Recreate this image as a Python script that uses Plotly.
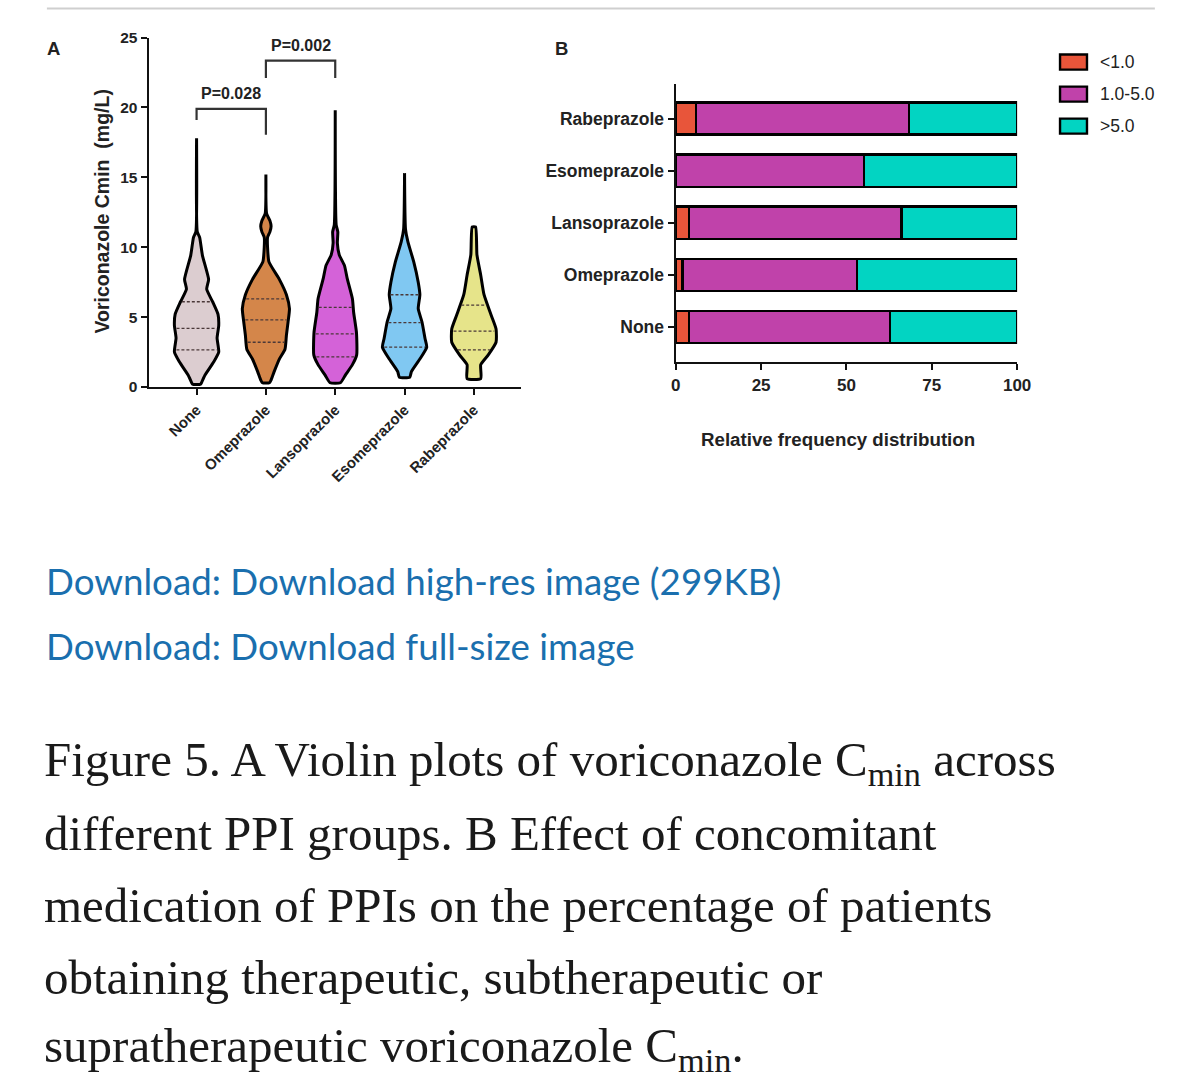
import numpy as np
import plotly.graph_objects as go

W, H = 1200, 1081
# measured mapping from figure pixels to photographed page pixels
SX, OX, SY, OY = 0.986, 3.0, 0.983, 7.5
def px(x): return ((x - OX) / SX) / W
def py(y): return 1 - ((y - OY) / SY) / H

# ---------------- Panel A data ----------------
GROUPS = ["None", "Omeprazole", "Lansoprazole", "Esomeprazole", "Rabeprazole"]
VIOLIN_COLORS = ["#dccdd0", "#d4864a", "#d462d8", "#80c8f2", "#e6e48a"]

# density profiles: concentration levels (mg/L) and relative half-width (0-1)
none_levels = [0.2, 0.35, 0.85, 1.8, 2.5, 3.5, 4.4, 5.2, 6.1, 7.0, 7.7, 9.4, 10.7, 11.1, 17.8]
none_dens = [0.17, 0.22, 0.36, 0.73, 0.94, 0.87, 0.94, 0.91, 0.68, 0.43, 0.51, 0.25, 0.13, 0.03, 0.0]
ome_levels = [0.3, 0.5, 1.1, 2.0, 2.7, 3.7, 4.65, 5.6, 6.6, 7.7, 8.95, 10.0, 10.7, 11.1, 11.5, 11.9, 12.4, 15.2]
ome_dens = [0.15, 0.22, 0.35, 0.57, 0.81, 0.87, 0.94, 1.0, 0.87, 0.57, 0.13, 0.07, 0.07, 0.17, 0.22, 0.17, 0.03, 0.0]
lan_levels = [0.3, 0.85, 1.6, 2.3, 3.9, 5.35, 6.3, 7.75, 8.7, 9.45, 10.3, 11.1, 11.6, 19.8]
lan_dens = [0.22, 0.43, 0.73, 0.91, 0.90, 0.78, 0.73, 0.51, 0.39, 0.17, 0.09, 0.11, 0.04, 0.0]
eso_levels = [0.7, 1.1, 2.0, 2.85, 3.45, 4.65, 5.6, 6.6, 7.5, 8.95, 10.4, 11.3, 15.3]
eso_dens = [0.22, 0.29, 0.65, 0.94, 0.87, 0.74, 0.58, 0.65, 0.58, 0.39, 0.14, 0.04, 0.0]
rab_levels = [0.6, 1.6, 2.3, 3.2, 4.15, 5.15, 6.6, 8.0, 9.45, 11.45]
rab_dens = [0.29, 0.29, 0.61, 0.94, 0.94, 0.73, 0.43, 0.29, 0.13, 0.07]

LEVELS = [none_levels, ome_levels, lan_levels, eso_levels, rab_levels]
DENS = [none_dens, ome_dens, lan_dens, eso_dens, rab_dens]

# quartiles (Q1, median, Q3) in mg/L
QUARTILES = [[2.65, 4.2, 6.1], [3.2, 4.8, 6.3], [2.15, 3.8, 5.7], [2.85, 4.6, 6.6], [2.65, 4.0, 5.85]]

# significance comparisons: (group a, group b, bracket top, left leg end, right leg end, label)
COMPARISONS = [
    ("None", "Omeprazole", 19.9, 19.1, 18.05, "P=0.028"),
    ("Omeprazole", "Lansoprazole", 23.35, 22.1, 22.1, "P=0.002"),
]
Y_TICKS_A = [0, 5, 10, 15, 20, 25]

# ---------------- Panel B data ----------------
B_GROUPS = ["None", "Omeprazole", "Lansoprazole", "Esomeprazole", "Rabeprazole"]
LOW = [3.9, 2.0, 3.9, 0.0, 6.0]          # <1.0
MID = [58.8, 51.1, 62.2, 55.1, 62.3]     # 1.0-5.0
HIGH = [37.3, 46.9, 33.9, 44.9, 31.7]    # >5.0
B_SERIES = ["<1.0", "1.0-5.0", ">5.0"]
B_COLORS = ["#e8553a", "#c042aa", "#02d4c2"]
X_TICKS_B = [0, 25, 50, 75, 100]

FONT = "Arial, Liberation Sans, sans-serif"
INK = "#222222"
MAXHW = 0.34   # max half width of a violin, in category units

fig = go.Figure()

# ---- violins
for i, g in enumerate(GROUPS):
    lv = np.array(LEVELS[i]); d = np.array(DENS[i]) * MAXHW
    xs = np.concatenate([i + d, (i - d)[::-1], [i + d[0]]])
    ys = np.concatenate([lv, lv[::-1], [lv[0]]])
    fig.add_trace(go.Scatter(x=xs, y=ys, mode="lines", fill="toself",
                             fillcolor=VIOLIN_COLORS[i],
                             line=dict(color="black", width=3, shape="spline", smoothing=0.5),
                             showlegend=False, hoverinfo="skip", xaxis="x", yaxis="y"))
    for q in QUARTILES[i]:
        hw = np.interp(q, lv, d) * 0.92
        fig.add_trace(go.Scatter(x=[i - hw, i + hw], y=[q, q], mode="lines",
                                 line=dict(color="#4a3838", width=1.3, dash="3px,2px"),
                                 showlegend=False, hoverinfo="skip", xaxis="x", yaxis="y"))

# ---- significance brackets
for a, b, top, la, lb, lab in COMPARISONS:
    xa, xb = GROUPS.index(a), GROUPS.index(b)
    fig.add_trace(go.Scatter(x=[xa, xa, xb, xb], y=[la, top, top, lb], mode="lines",
                             line=dict(color="#333", width=2.2), showlegend=False,
                             hoverinfo="skip", xaxis="x", yaxis="y"))
    fig.add_annotation(x=(xa + xb) / 2, y=top, xref="x", yref="y", text=lab,
                       showarrow=False, xanchor="center", yanchor="bottom", yshift=5,
                       font=dict(family=FONT, size=16, color=INK, weight="bold"))

# ---- panel B stacked bars
for name, vals, col in zip(B_SERIES, [LOW, MID, HIGH], B_COLORS):
    fig.add_trace(go.Bar(y=B_GROUPS, x=vals, orientation="h", name=name,
                         marker=dict(color=col, line=dict(color="black", width=2.4)),
                         width=0.62, xaxis="x2", yaxis="y2", showlegend=False))

axis_common = dict(showgrid=False, zeroline=False, showline=True, linecolor="#111",
                   linewidth=2.4, ticks="outside", ticklen=6, tickwidth=2.2, tickcolor="#111")

fig.update_layout(
    width=W, height=H, margin=dict(l=0, r=0, t=0, b=0),
    paper_bgcolor="white", plot_bgcolor="white",
    barmode="stack",
    xaxis=dict(domain=[px(147), px(520)], range=[-0.69, 4.68],
               tickvals=list(range(len(GROUPS))), ticktext=GROUPS, tickangle=-45,
               tickfont=dict(family=FONT, size=15, color=INK, weight="bold"),
               anchor="y", **axis_common),
    yaxis=dict(domain=[py(385), py(36)], range=[0, 25], tickvals=Y_TICKS_A,
               tickfont=dict(family=FONT, size=15.5, color=INK, weight="bold"),
               anchor="x", **axis_common),
    xaxis2=dict(domain=[px(675), px(1017)], range=[0, 100], tickvals=X_TICKS_B,
                tickfont=dict(family=FONT, size=17, color=INK, weight="bold"),
                anchor="y2", **axis_common),
    yaxis2=dict(domain=[py(360), py(82)], range=[-0.67, 4.67],
                categoryorder="array", categoryarray=B_GROUPS,
                tickfont=dict(family=FONT, size=17.5, color=INK, weight="bold"),
                anchor="x2", **axis_common),
    showlegend=False,
    shapes=[dict(type="line", xref="paper", yref="paper", x0=px(45), x1=px(1155),
                 y0=py(7), y1=py(7), line=dict(color="#cfcfcf", width=2))],
)

# ---- custom legend for panel B (boxes + labels)
for k, (name, col) in enumerate(zip(B_SERIES, B_COLORS)):
    yc = 60.5 + 32 * k
    fig.add_shape(type="rect", xref="paper", yref="paper",
                  x0=px(1060), x1=px(1087), y0=py(yc + 7.5), y1=py(yc - 7.5),
                  fillcolor=col, line=dict(color="black", width=2.4))
    fig.add_annotation(x=px(1098), y=py(yc), xref="paper", yref="paper", text=name,
                       showarrow=False, xanchor="left", yanchor="middle",
                       font=dict(family=FONT, size=17.5, color=INK))

# ---- text elements
for x, y, t in [(52, 47, "A"), (561, 47, "B")]:
    fig.add_annotation(x=px(x), y=py(y), xref="paper", yref="paper", text=t,
                       showarrow=False, xanchor="center", yanchor="middle",
                       font=dict(family=FONT, size=18.5, color=INK, weight="bold"))

fig.add_annotation(x=px(100), y=py(210), xref="paper", yref="paper",
                   text="Voriconazole Cmin  (mg/L)", textangle=-90, showarrow=False,
                   xanchor="center", yanchor="middle",
                   font=dict(family=FONT, size=19.5, color=INK, weight="bold"))
fig.add_annotation(x=px(838), y=py(437), xref="paper", yref="paper",
                   text="Relative frequency distribution", showarrow=False,
                   xanchor="center", yanchor="middle",
                   font=dict(family=FONT, size=18.7, color=INK, weight="bold"))

LINK_COLOR = "#1a6fae"
for yy, t in [(578.5, "Download: Download high-res image (299KB)"),
              (643.5, "Download: Download full-size image")]:
    fig.add_annotation(x=px(42), y=py(yy), xref="paper", yref="paper", text=t,
                       showarrow=False, xanchor="left", yanchor="middle",
                       font=dict(family="Lato, Noto Sans, sans-serif", size=36.7, color=LINK_COLOR))

CAPTION = [
    "Figure 5. A Violin plots of voriconazole C<sub>min</sub> across",
    "different PPI groups. B Effect of concomitant",
    "medication of PPIs on the percentage of patients",
    "obtaining therapeutic, subtherapeutic or",
    "supratherapeutic voriconazole C<sub>min</sub>.",
]
CAPTION_Y = [760, 831, 903, 975, 1046]
for yy, t in zip(CAPTION_Y, CAPTION):
    fig.add_annotation(x=px(40.5), y=py(yy), xref="paper", yref="paper", text=t,
                       showarrow=False, xanchor="left", yanchor="middle",
                       font=dict(family="Liberation Serif, DejaVu Serif, serif", size=49, color="#1a1a1a"))

fig.write_html("out.html")
